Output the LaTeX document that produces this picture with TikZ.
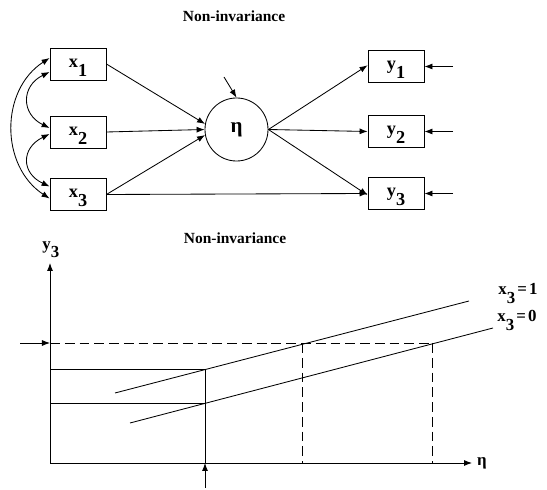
\documentclass[tikz,border=0pt]{standalone}
\usepackage{fontspec}
\setmainfont{Liberation Serif}
\usetikzlibrary{arrows.meta}
\newcommand{\lo}[1]{\raisebox{-0.5em}{#1}}

\begin{document}
\begin{tikzpicture}[x=0.025cm,y=-0.025cm,line width=0.6pt,
  every node/.style={font=\fontsize{12}{14}\selectfont\bfseries},
  obs/.style={draw,minimum width=1.4cm,minimum height=0.8cm,inner sep=0pt,text height=0.93em,text depth=0.5em,
    font=\fontsize{13}{15}\selectfont\bfseries},
  lat/.style={draw,circle,minimum size=1.575cm,inner sep=0pt,font=\fontsize{15}{17}\selectfont\bfseries},
  arr/.style={-{Latex[length=2mm,width=1.5mm]}},
  darr/.style={{Latex[length=2mm,width=1.5mm]}-{Latex[length=2mm,width=1.5mm]}},
  dsh/.style={dash pattern=on 7pt off 3.5pt},
  ttl/.style={font=\fontsize{11}{13}\selectfont\bfseries}]
\useasboundingbox (0,0) rectangle (547,490);
% path diagram
\node[ttl] (t1) at (234,16) {Non-invariance};
\node[obs] (x1) at (78,64) {x\lo{1}};
\node[obs] (x2) at (78,132) {x\lo{2}};
\node[obs] (x3) at (78,194.5) {x\lo{3}};
\node[lat] (eta) at (236.5,129.5) {η};
\node[obs] (y1) at (396,66.5) {y\lo{1}};
\node[obs] (y2) at (396,131.5) {y\lo{2}};
\node[obs] (y3) at (396,193.5) {y\lo{3}};
\coordinate (ez) at (224,77);
\coordinate (e1) at (453,66.5); \coordinate (e2) at (453,131.5); \coordinate (e3) at (453,193.5);
\draw[arr] (x1.east) -- (eta.170);
\draw[arr] (x2.east) -- (eta.west);
\draw[arr] (x3.east) -- (eta.190);
\draw[arr] (x3.east) -- (y3.west);
\draw[arr] (eta.east) -- ([yshift=0.03cm]y1.west);
\draw[arr] (eta.east) -- (y2.west);
\draw[arr] (eta.east) -- ([yshift=-0.04cm]y3.west);
\draw[arr] (ez) -- (eta.north);
\draw[arr] (e1) -- (y1.east); \draw[arr] (e2) -- (y2.east); \draw[arr] (e3) -- (y3.east);
\draw[darr] ([yshift=0.15cm]x1.west) .. controls (0,90) and (0,166) .. ([yshift=-0.1cm]x3.west);
\draw[darr] ([yshift=-0.2cm]x1.west) .. controls (21,86) and (21,114) .. ([yshift=0.1cm]x2.west);
\draw[darr] ([yshift=-0.05cm]x2.west) .. controls (21,148) and (21,173) .. ([yshift=0.2cm]x3.west);
% regression plot
\node[ttl] (t2) at (235,238) {Non-invariance};
\coordinate (O) at (50,463);
\coordinate (xe) at (472,463); \coordinate (ye) at (50,263);
\draw[arr] (O) -- (xe) node[right] (etaax) {η};
\draw[arr] (O) -- (ye);
\node[anchor=base west,inner sep=0pt] (y3ax) at (42,249.5) {y\lo{3}};
\coordinate (a1) at (115,393); \coordinate (b1) at (469,301);
\coordinate (a0) at (130,423); \coordinate (b0) at (493,328);
\draw (a1) -- (b1); \draw (a0) -- (b0);
\node[anchor=base west,inner sep=0pt] (l1) at (498,295) {x\lo{3}\kern1.5pt=\kern1.5pt1};
\node[anchor=base west,inner sep=0pt] (l0) at (497,322) {x\lo{3}\kern1.5pt=\kern1.5pt0};
\coordinate (h) at (50,343); \coordinate (hs) at (20,343);
\draw[arr] (hs) -- (h);
\draw[dsh] (h) -- (432,343);
\draw[dsh] (302,343) -- (302,463);
\draw[dsh] (432,343) -- (432,463);
\coordinate (m1) at (50,369); \coordinate (m0) at (50,403);
\coordinate (vb) at (205,463); \coordinate (vs) at (205,488);
\draw (m1) -- (205,369) -- (vb);
\draw (m0) -- (205,403);
\draw[arr] (vs) -- (vb);
\end{tikzpicture}
\end{document}
